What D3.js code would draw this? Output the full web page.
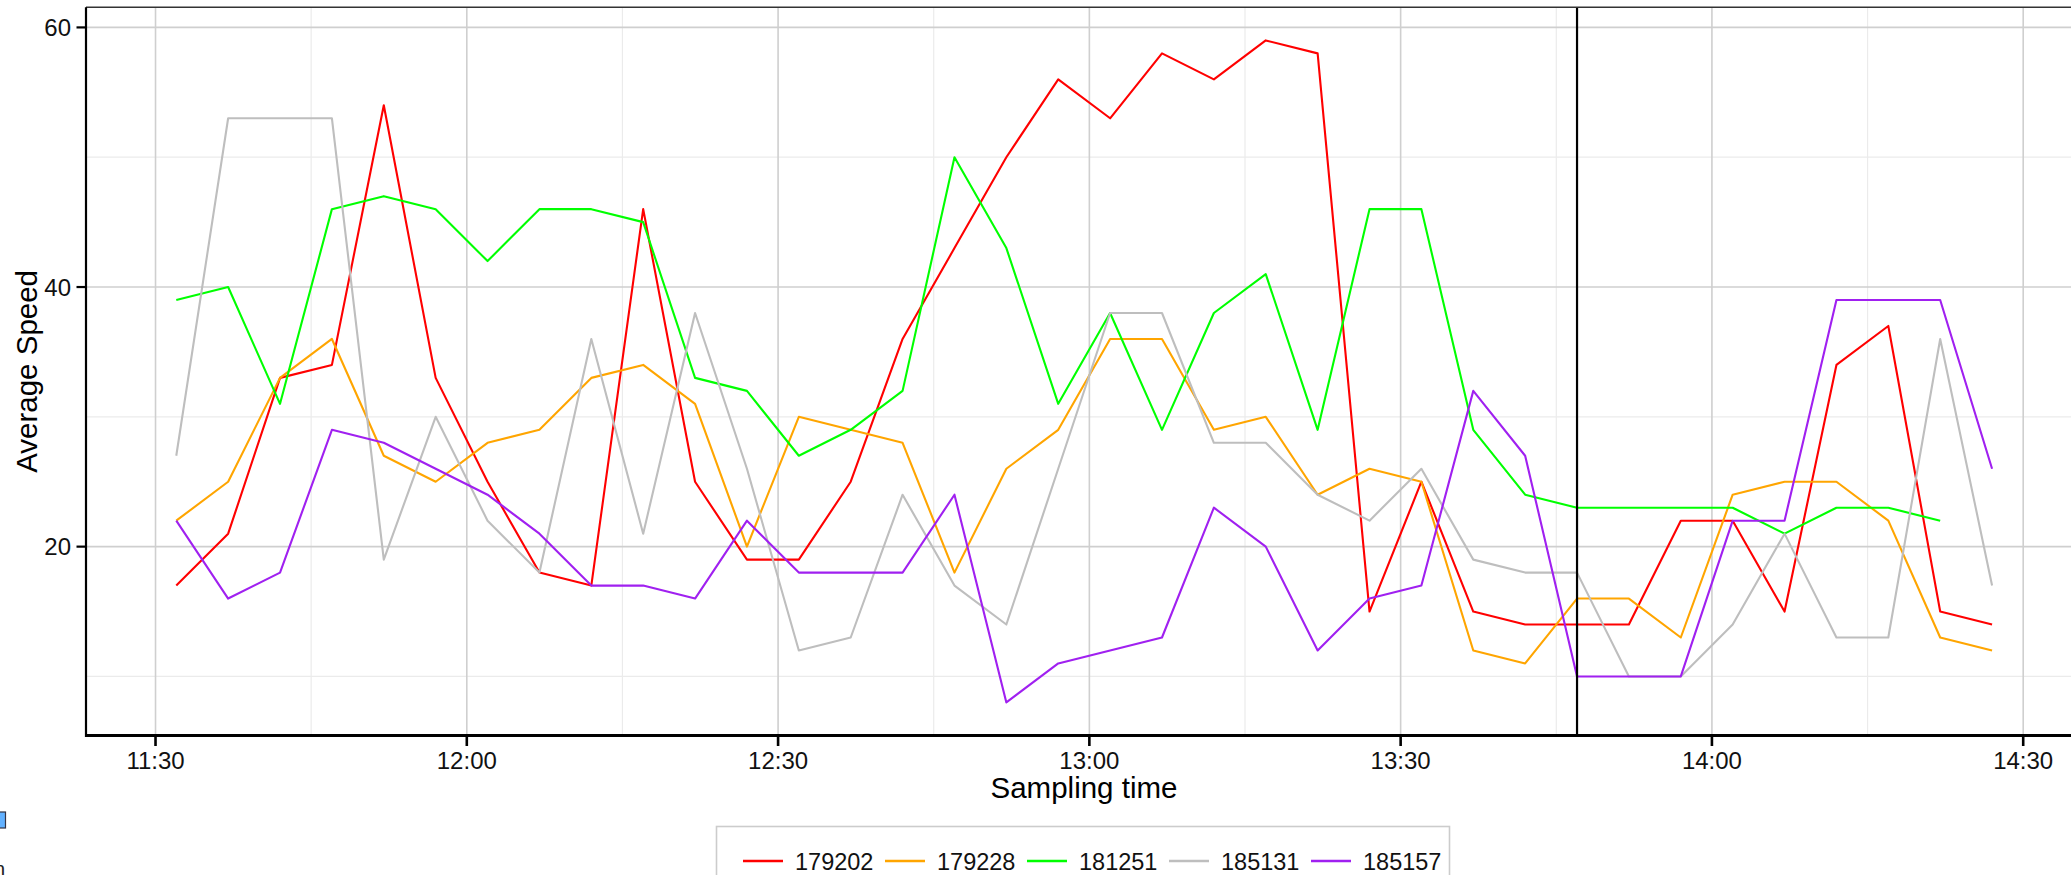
<!DOCTYPE html>
<html>
<head>
<meta charset="utf-8">
<script src="https://cdn.jsdelivr.net/npm/d3@7"></script>
<style>
  html, body { margin: 0; padding: 0; background: #fff; overflow: hidden; }
  svg { display: block; font-family: "Liberation Sans", Arial, sans-serif; }
</style>
</head>
<body>
<svg id="chart" width="2071" height="875"></svg>
<script>
// sampling times (every 5 minutes)
var times = ["11:32","11:37","11:42","11:47","11:52","11:57","12:02","12:07","12:12","12:17",
  "12:22","12:27","12:32","12:37","12:42","12:47","12:52","12:57","13:02","13:07",
  "13:12","13:17","13:22","13:27","13:32","13:37","13:42","13:47","13:52","13:57",
  "14:02","14:07","14:12","14:17","14:22","14:27"];

var seriesNames = ["179202", "179228", "181251", "185131", "185157"];
var seriesColors = ["#ff0000", "#ffa500", "#00ff00", "#bebebe", "#a020f0"];

var s179202 = [17,21,33,34,54,33,25,18,17,46,25,19,19,25,36,43,50,56,53,58,56,59,58,15,25,15,14,14,14,22,22,15,34,37,15,14];
var s179228 = [22,25,33,36,27,25,28,29,33,34,31,20,30,29,28,18,26,29,36,36,29,30,24,26,25,12,11,16,16,13,24,25,25,22,13,12];
var s181251 = [39,40,31,46,47,46,42,46,46,45,33,32,27,29,32,50,43,31,38,29,38,41,29,46,46,29,24,23,23,23,23,21,23,23,22,null];
var s185131 = [27,53,53,53,19,30,22,18,36,21,38,26,12,13,24,17,14,26,38,38,28,28,24,22,26,19,18,18,10,10,14,21,13,13,36,17];
var s185157 = [22,16,18,29,28,26,24,21,17,17,16,22,18,18,18,24,8,11,12,13,23,20,12,16,17,32,27,10,10,10,22,22,39,39,39,26];

var seriesValues = [s179202, s179228, s181251, s185131, s185157];

var xTicks = ["11:30","12:00","12:30","13:00","13:30","14:00","14:30"];
var xMinor = ["11:45","12:15","12:45","13:15","13:45","14:15"];
var yTicks = [20, 40, 60];
var yMinor = [10, 30, 50];
var markerTime = "13:47";

var parseT = d3.timeParse("%H:%M:%S");
function pt(s) { return parseT(s.length === 5 ? s + ":00" : s); }

var svg = d3.select("#chart");
// note: "top" clashes with window.top, so prefixed names
var pLeft = 86, pRight = 2082, pTop = 7.3, pBottom = 735.5;

var x = d3.scaleTime()
  .domain([pt("11:23:18"), pt("14:35:40")])
  .range([pLeft, pRight]);
var y = d3.scaleLinear()
  .domain([5.45, 61.55])
  .range([pBottom, pTop]);

// grid
var grid = svg.append("g");
grid.selectAll(".ymin").data(yMinor).enter().append("line")
  .attr("x1", pLeft).attr("x2", pRight)
  .attr("y1", d => y(d)).attr("y2", d => y(d))
  .attr("stroke", "#ebebeb").attr("stroke-width", 1.2);
grid.selectAll(".xmin").data(xMinor).enter().append("line")
  .attr("x1", d => x(pt(d))).attr("x2", d => x(pt(d)))
  .attr("y1", pTop).attr("y2", pBottom)
  .attr("stroke", "#ebebeb").attr("stroke-width", 1.2);
grid.selectAll(".ymaj").data(yTicks).enter().append("line")
  .attr("x1", pLeft).attr("x2", pRight)
  .attr("y1", d => y(d)).attr("y2", d => y(d))
  .attr("stroke", "#cfcfcf").attr("stroke-width", 1.6);
grid.selectAll(".xmaj").data(xTicks).enter().append("line")
  .attr("x1", d => x(pt(d))).attr("x2", d => x(pt(d)))
  .attr("y1", pTop).attr("y2", pBottom)
  .attr("stroke", "#cfcfcf").attr("stroke-width", 1.6);

// series
var line = d3.line()
  .defined(d => d.v != null)
  .x(d => x(d.t))
  .y(d => y(d.v));

seriesValues.forEach(function(vals, i) {
  var pts = vals.map((v, j) => ({ t: pt(times[j]), v: v }));
  svg.append("path")
    .datum(pts)
    .attr("fill", "none")
    .attr("stroke", seriesColors[i])
    .attr("stroke-width", 2.1)
    .attr("stroke-linejoin", "round")
    .attr("d", line);
});

// marker line
svg.append("line")
  .attr("x1", x(pt(markerTime))).attr("x2", x(pt(markerTime)))
  .attr("y1", pTop).attr("y2", pBottom)
  .attr("stroke", "#000").attr("stroke-width", 2.2);

// frame
svg.append("line")
  .attr("x1", pLeft).attr("x2", pRight).attr("y1", pTop).attr("y2", pTop)
  .attr("stroke", "#333").attr("stroke-width", 1.6);
svg.append("line")
  .attr("x1", pLeft).attr("x2", pLeft).attr("y1", pTop).attr("y2", pBottom + 1.5)
  .attr("stroke", "#000").attr("stroke-width", 2.2);
svg.append("line")
  .attr("x1", pLeft - 1).attr("x2", pRight).attr("y1", pBottom).attr("y2", pBottom)
  .attr("stroke", "#000").attr("stroke-width", 3);

// y axis ticks + labels
var yAxis = svg.append("g");
yAxis.selectAll("line").data(yTicks).enter().append("line")
  .attr("x1", pLeft - 9.5).attr("x2", pLeft)
  .attr("y1", d => y(d)).attr("y2", d => y(d))
  .attr("stroke", "#000").attr("stroke-width", 2.2);
yAxis.selectAll("text").data(yTicks).enter().append("text")
  .attr("x", pLeft - 15).attr("y", d => y(d) + 8.5)
  .attr("text-anchor", "end")
  .attr("font-size", 24).attr("fill", "#111")
  .text(d => d);

// x axis ticks + labels
var xAxis = svg.append("g");
xAxis.selectAll("line").data(xTicks).enter().append("line")
  .attr("x1", d => x(pt(d))).attr("x2", d => x(pt(d)))
  .attr("y1", pBottom).attr("y2", pBottom + 10.5)
  .attr("stroke", "#000").attr("stroke-width", 2.6);
xAxis.selectAll("text").data(xTicks).enter().append("text")
  .attr("x", d => x(pt(d))).attr("y", 768.5)
  .attr("text-anchor", "middle")
  .attr("font-size", 24).attr("fill", "#111")
  .text(d => d);

// axis titles
svg.append("text")
  .attr("x", (pLeft + pRight) / 2).attr("y", 797.5)
  .attr("text-anchor", "middle")
  .attr("font-size", 29.5).attr("fill", "#000")
  .text("Sampling time");
svg.append("text")
  .attr("transform", "translate(36.5," + ((pTop + pBottom) / 2) + ") rotate(-90)")
  .attr("text-anchor", "middle")
  .attr("font-size", 29.5).attr("fill", "#000")
  .text("Average Speed");

// legend
var legend = svg.append("g");
legend.append("rect")
  .attr("x", 716.5).attr("y", 826.5).attr("width", 733).attr("height", 80)
  .attr("fill", "#fff").attr("stroke", "#cccccc").attr("stroke-width", 1.6);
var items = legend.selectAll(".item").data(seriesNames).enter().append("g")
  .attr("transform", (d, i) => "translate(" + (743 + i * 142) + ",0)");
items.append("line")
  .attr("x1", 0).attr("x2", 40).attr("y1", 861).attr("y2", 861)
  .attr("stroke", (d, i) => seriesColors[i]).attr("stroke-width", 2.6);
items.append("text")
  .attr("x", 52).attr("y", 869.5)
  .attr("font-size", 23.5).attr("fill", "#111")
  .text(d => d);

// screenshot leftovers at the left edge
svg.append("rect")
  .attr("x", -2).attr("y", 812).attr("width", 7.5).attr("height", 16)
  .attr("fill", "#62b1ff").attr("stroke", "#334").attr("stroke-width", 1.2);
svg.append("text")
  .attr("x", -6).attr("y", 876)
  .attr("font-size", 20).attr("fill", "#222")
  .text("n");
</script>
</body>
</html>
